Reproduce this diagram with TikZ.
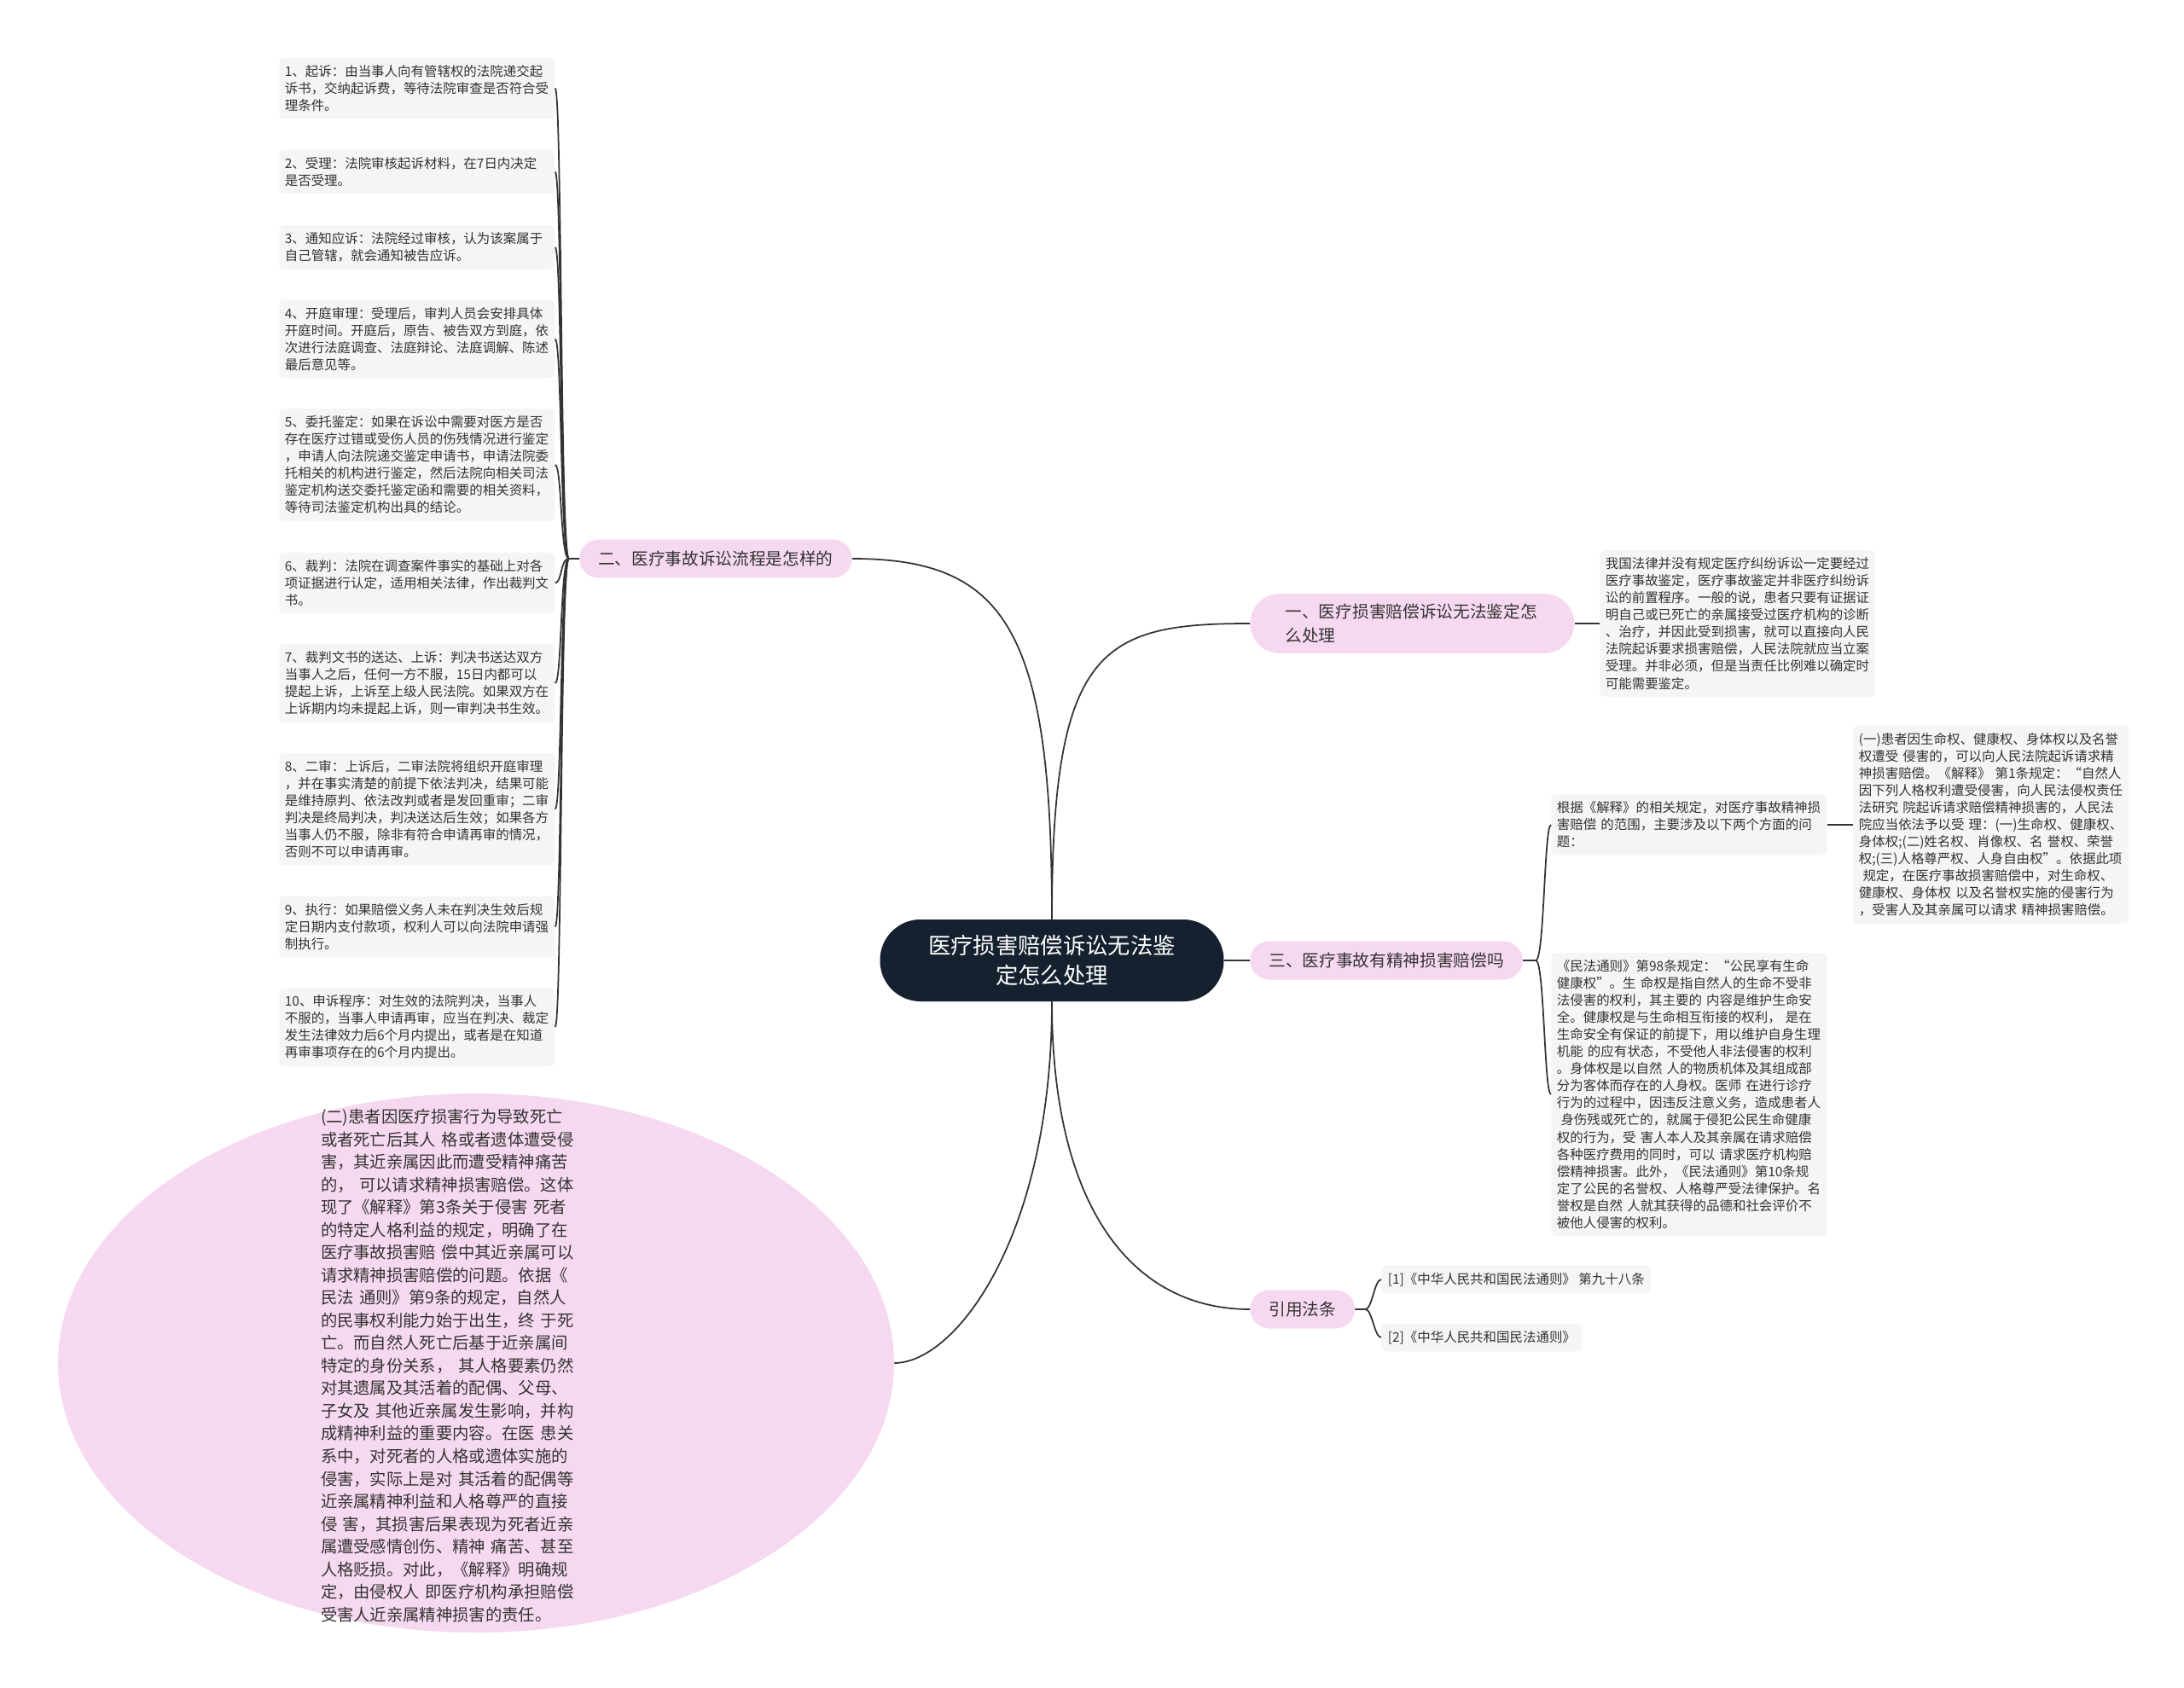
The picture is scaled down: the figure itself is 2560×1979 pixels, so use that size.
\documentclass[tikz,border=0pt]{standalone}
\usepackage{fontspec}
\setmainfont{Noto Sans CJK SC}
\usetikzlibrary{shapes.geometric}
\definecolor{rootbg}{RGB}{22,33,48}
\definecolor{topicbg}{RGB}{246,217,240}
\definecolor{leafbg}{RGB}{245,245,245}
\definecolor{ink}{RGB}{51,51,51}
\tikzset{
  root/.style={fill=rootbg,text=white,rounded corners=9.5mm,minimum width=80.6mm,minimum height=19.2mm,align=center,font=\fontsize{15}{20}\selectfont},
  topic/.style={fill=topicbg,text=ink,rounded corners=4.5mm,inner xsep=4.4mm,inner ysep=2.4mm,minimum height=9mm,align=left,font=\fontsize{11.2}{15.7}\selectfont},
  leaf/.style={fill=leafbg,text=ink,rounded corners=1.2mm,inner xsep=1.3mm,inner ysep=1.7mm,text width=62mm,align=left,font=\fontsize{8.8}{11.4}\selectfont},
  lawbox/.style={fill=leafbg,text=ink,rounded corners=1.2mm,inner xsep=1.5mm,inner ysep=1.7mm,font=\fontsize{8.8}{11.4}\selectfont},
  link/.style={draw=ink,line width=0.35mm}
}
\begin{document}
\begin{tikzpicture}[x=0.2mm,y=-0.2mm]
\fill[white] (0,0) rectangle (2560,1979);
\useasboundingbox (0,0) rectangle (2560,1979);
\path
(1233,1126) node[root] (r) {医疗损害赔偿诉讼无法鉴\\定怎么处理}
(999,655) node[topic,anchor=east] (b2) {二、医疗事故诉讼流程是怎样的}
(1465,731) node[topic,anchor=west,text width=59.5mm,minimum width=76mm,rounded corners=7mm] (b1) {一、医疗损害赔偿诉讼无法鉴定怎\\么处理}
(1465,1126) node[topic,anchor=west] (b3) {三、医疗事故有精神损害赔偿吗}
(1465,1535) node[topic,anchor=west] (cite) {引用法条}
(558,1598) node[ellipse,fill=topicbg,minimum width=196mm,minimum height=126.4mm,inner sep=0] (dead) {};
%left leaves
\path
(327,103.5) node[leaf,anchor=west] (s1) {1、起诉：由当事人向有管辖权的法院递交起\\诉书，交纳起诉费，等待法院审查是否符合受\\理条件。}
(327,201.5) node[leaf,anchor=west] (s2) {2、受理：法院审核起诉材料，在7日内决定\\是否受理。}
(327,290) node[leaf,anchor=west] (s3) {3、通知应诉：法院经过审核，认为该案属于\\自己管辖，就会通知被告应诉。}
(327,397.5) node[leaf,anchor=west] (s4) {4、开庭审理：受理后，审判人员会安排具体\\开庭时间。开庭后，原告、被告双方到庭，依\\次进行法庭调查、法庭辩论、法庭调解、陈述\\最后意见等。}
(327,545) node[leaf,anchor=west] (s5) {5、委托鉴定：如果在诉讼中需要对医方是否\\存在医疗过错或受伤人员的伤残情况进行鉴定\\，申请人向法院递交鉴定申请书，申请法院委\\托相关的机构进行鉴定，然后法院向相关司法\\鉴定机构送交委托鉴定函和需要的相关资料，\\等待司法鉴定机构出具的结论。}
(327,683.5) node[leaf,anchor=west] (s6) {6、裁判：法院在调查案件事实的基础上对各\\项证据进行认定，适用相关法律，作出裁判文\\书。}
(327,801) node[leaf,anchor=west] (s7) {7、裁判文书的送达、上诉：判决书送达双方\\当事人之后，任何一方不服，15日内都可以\\提起上诉，上诉至上级人民法院。如果双方在\\上诉期内均未提起上诉，则一审判决书生效。}
(327,948.5) node[leaf,anchor=west] (s8) {8、二审：上诉后，二审法院将组织开庭审理\\，并在事实清楚的前提下依法判决，结果可能\\是维持原判、依法改判或者是发回重审；二审\\判决是终局判决，判决送达后生效；如果各方\\当事人仍不服，除非有符合申请再审的情况，\\否则不可以申请再审。}
(327,1086.5) node[leaf,anchor=west] (s9) {9、执行：如果赔偿义务人未在判决生效后规\\定日期内支付款项，权利人可以向法院申请强\\制执行。}
(327,1204) node[leaf,anchor=west] (s10) {10、申诉程序：对生效的法院判决，当事人\\不服的，当事人申请再审，应当在判决、裁定\\发生法律效力后6个月内提出，或者是在知道\\再审事项存在的6个月内提出。};
\path
(531,1601) node[text=ink,text width=62mm,align=left,font=\fontsize{11}{15.1}\selectfont] (deadtxt) {(二)患者因医疗损害行为导致死亡\\或者死亡后其人~格或者遗体遭受侵\\害，其近亲属因此而遭受精神痛苦\\的，~可以请求精神损害赔偿。这体\\现了《解释》第3条关于侵害~死者\\的特定人格利益的规定，明确了在\\医疗事故损害赔~偿中其近亲属可以\\请求精神损害赔偿的问题。依据《\\民法~通则》第9条的规定，自然人\\的民事权利能力始于出生，终~于死\\亡。而自然人死亡后基于近亲属间\\特定的身份关系，~其人格要素仍然\\对其遗属及其活着的配偶、父母、\\子女及~其他近亲属发生影响，并构\\成精神利益的重要内容。在医~患关\\系中，对死者的人格或遗体实施的\\侵害，实际上是对~其活着的配偶等\\近亲属精神利益和人格尊严的直接\\侵~害，其损害后果表现为死者近亲\\属遭受感情创伤、精神~痛苦、甚至\\人格贬损。对此，《解释》明确规\\定，由侵权人~即医疗机构承担赔偿\\受害人近亲属精神损害的责任。};
%right leaves
\path
(1875,731) node[leaf,anchor=west] (t1) {我国法律并没有规定医疗纠纷诉讼一定要经过\\医疗事故鉴定，医疗事故鉴定并非医疗纠纷诉\\讼的前置程序。一般的说，患者只要有证据证\\明自己或已死亡的亲属接受过医疗机构的诊断\\、治疗，并因此受到损害，就可以直接向人民\\法院起诉要求损害赔偿，人民法院就应当立案\\受理。并非必须，但是当责任比例难以确定时\\可能需要鉴定。}
(1818,967) node[leaf,anchor=west] (pa) {根据《解释》的相关规定，对医疗事故精神损\\害赔偿~的范围，主要涉及以下两个方面的问\\题：}
(2172,967) node[leaf,anchor=west] (pa1) {(一)患者因生命权、健康权、身体权以及名誉\\权遭受~侵害的，可以向人民法院起诉请求精\\神损害赔偿。《解释》~第1条规定：“自然人\\因下列人格权利遭受侵害，向人民法侵权责任\\法研究~院起诉请求赔偿精神损害的，人民法\\院应当依法予以受~理：(一)生命权、健康权、\\身体权;(二)姓名权、肖像权、名~誉权、荣誉\\权;(三)人格尊严权、人身自由权”。依据此项\\\hspace*{.3em}规定，在医疗事故损害赔偿中，对生命权、\\健康权、身体权~以及名誉权实施的侵害行为\\，受害人及其亲属可以请求~精神损害赔偿。}
(1818,1283) node[leaf,anchor=west] (pb) {《民法通则》第98条规定：“公民享有生命\\健康权”。生~命权是指自然人的生命不受非\\法侵害的权利，其主要的~内容是维护生命安\\全。健康权是与生命相互衔接的权利，~是在\\生命安全有保证的前提下，用以维护自身生理\\机能~的应有状态，不受他人非法侵害的权利\\。身体权是以自然~人的物质机体及其组成部\\分为客体而存在的人身权。医师~在进行诊疗\\行为的过程中，因违反注意义务，造成患者人\\\hspace*{.3em}身伤残或死亡的，就属于侵犯公民生命健康\\权的行为，受~害人本人及其亲属在请求赔偿\\各种医疗费用的同时，可以~请求医疗机构赔\\偿精神损害。此外，《民法通则》第10条规\\定了公民的名誉权、人格尊严受法律保护。名\\誉权是自然~人就其获得的品德和社会评价不\\被他人侵害的权利。}
(1619,1500) node[lawbox,anchor=west] (c1) {[1]《中华人民共和国民法通则》~第九十八条}
(1619,1568) node[lawbox,anchor=west] (c2) {[2]《中华人民共和国民法通则》};
\draw[link] (r.north) .. controls (1233,740) and (1180,655) .. (b2.east);
\draw[link] (r.north) .. controls (1233,760) and (1290,731) .. (b1.west);
\draw[link] (r.east) -- (b3.west);
\draw[link] (r.south) .. controls (1233,1420) and (1330,1535) .. (cite.west);
\draw[link] (r.south) .. controls (1233,1450) and (1120,1598) .. (dead.east);
\foreach \s in {1,...,10}
  \draw[link] (b2.west) -- ++(-12,0) .. controls +(-10,0) and +(8,0) .. (s\s.east);
\draw[link] (b1.east) -- (t1.west);
\foreach \s in {pa,pb}
  \draw[link] (b3.east) -- ++(15,0) .. controls +(10,0) and +(-8,0) .. (\s.west);
\draw[link] (pa.east) -- (pa1.west);
\foreach \s in {c1,c2}
  \draw[link] (cite.east) -- ++(12,0) .. controls +(8,0) and +(-8,0) .. (\s.west);
\end{tikzpicture}
\end{document}
